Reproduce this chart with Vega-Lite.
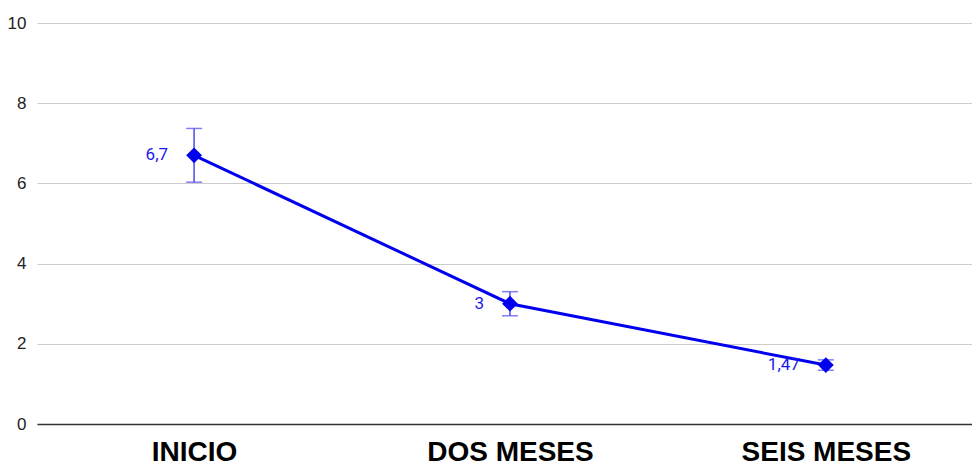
{
  "$schema": "https://vega.github.io/schema/vega-lite/v6.json",
  "width": 935,
  "height": 401,
  "autosize": "none",
  "padding": {"left": 37, "top": 23, "right": 0, "bottom": 44},
  "background": "white",
  "config": {
    "view": {"stroke": null},
    "locale": {"number": {"decimal": ",", "thousands": ".", "grouping": [3], "currency": ["", " €"]}},
    "font": "Liberation Sans"
  },
  "data": {
    "values": [
      {"tiempo": "INICIO", "valor": 6.7, "lo": 6.03, "hi": 7.37},
      {"tiempo": "DOS MESES", "valor": 3, "lo": 2.7, "hi": 3.3},
      {"tiempo": "SEIS MESES", "valor": 1.47, "lo": 1.34, "hi": 1.6}
    ]
  },
  "encoding": {
    "x": {
      "field": "tiempo",
      "type": "nominal",
      "sort": null,
      "scale": {"type": "point", "padding": 0.48, "align": 0.518},
      "axis": {
        "title": null,
        "labelAngle": 0,
        "labelFont": "Liberation Sans",
        "labelFontSize": 28,
        "labelFontWeight": "bold",
        "labelColor": "#000000",
        "labelPadding": 14,
        "ticks": false,
        "domain": true,
        "domainColor": "#333333",
        "domainWidth": 1.5,
        "grid": false
      }
    }
  },
  "layer": [
    {
      "mark": {"type": "rule", "color": "#4a4af0", "strokeWidth": 1.5},
      "encoding": {
        "y": {
          "field": "lo",
          "type": "quantitative",
          "scale": {"domain": [0, 10]},
          "axis": {
            "title": null,
            "values": [0, 2, 4, 6, 8, 10],
            "labelFont": "Liberation Sans",
            "labelFontSize": 17,
            "labelColor": "#222222",
            "labelPadding": 11,
            "ticks": false,
            "domain": false,
            "grid": true,
            "gridColor": "#cccccc",
            "gridWidth": 1
          }
        },
        "y2": {"field": "hi"}
      }
    },
    {
      "mark": {"type": "tick", "color": "#4a4af0", "thickness": 1.5, "size": 16, "orient": "horizontal"},
      "encoding": {"y": {"field": "lo", "type": "quantitative"}}
    },
    {
      "mark": {"type": "tick", "color": "#4a4af0", "thickness": 1.5, "size": 16, "orient": "horizontal"},
      "encoding": {"y": {"field": "hi", "type": "quantitative"}}
    },
    {
      "mark": {"type": "line", "color": "#0000ee", "strokeWidth": 3},
      "encoding": {"y": {"field": "valor", "type": "quantitative"}}
    },
    {
      "mark": {"type": "point", "shape": "diamond", "filled": true, "opacity": 1, "color": "#0000ee", "size": 250},
      "encoding": {"y": {"field": "valor", "type": "quantitative"}}
    },
    {
      "mark": {"type": "text", "align": "right", "baseline": "middle", "dx": -26, "fontSize": 17, "font": "Roboto", "color": "#1a1aee"},
      "encoding": {
        "y": {"field": "valor", "type": "quantitative"},
        "text": {"field": "valor", "type": "quantitative", "format": ".3~r"}
      }
    }
  ]
}
